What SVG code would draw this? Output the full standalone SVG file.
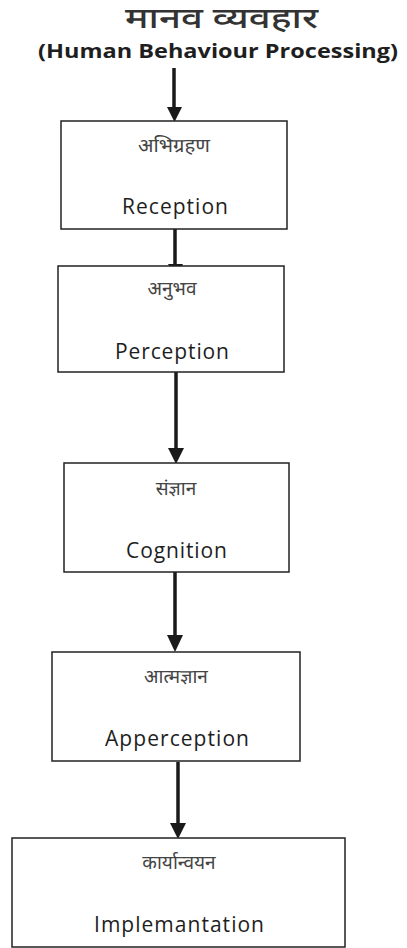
<svg xmlns="http://www.w3.org/2000/svg" width="407" height="948" viewBox="0 0 407 948">
<style>
.box{fill:#fff;stroke:#222;stroke-width:1.5}
.hi{font-family:"Noto Sans Devanagari","Noto Sans",sans-serif;font-size:19px;fill:#444;text-anchor:middle}
.en{font-family:"Open Sans","Liberation Sans",sans-serif;font-size:21px;fill:#1e1e1e;text-anchor:middle}
.cn{stroke:#1a1a1a;stroke-width:3.5;fill:none}
.hd{fill:#1a1a1a}
</style>
<rect width="407" height="948" fill="#fff"/>
<g id="title">
<text x="221.5" y="28" font-family="Noto Sans Devanagari,Noto Sans,sans-serif" font-size="28" font-weight="500" fill="#333" text-anchor="middle" textLength="193" lengthAdjust="spacingAndGlyphs">मानव  व्यवहार</text>
<text x="218" y="58" font-family="Open Sans,Liberation Sans,sans-serif" font-size="20" font-weight="bold" fill="#1e1e1e" text-anchor="middle" textLength="360" lengthAdjust="spacingAndGlyphs">(Human Behaviour Processing)</text>
</g>
<g id="connectors">
<line class="cn" x1="174" y1="68" x2="174" y2="108"/>
<polygon class="hd" points="167,107 182,107 174.5,122"/>
<line class="cn" x1="175" y1="229" x2="175" y2="264"/>
<polygon class="hd" points="168,264 183,264 175.5,278"/>
<line class="cn" x1="176" y1="372" x2="176" y2="449"/>
<polygon class="hd" points="168,448 184,448 176,464"/>
<line class="cn" x1="175" y1="572" x2="175" y2="636"/>
<polygon class="hd" points="167,635 183,635 175,652"/>
<line class="cn" x1="178" y1="762" x2="178" y2="824"/>
<polygon class="hd" points="170,823 186,823 178,839"/>
</g>
<g id="n1">
<rect class="box" x="61" y="121" width="226" height="108"/>
<text class="hi" x="174" y="152" textLength="72" lengthAdjust="spacingAndGlyphs">अभिग्रहण</text>
<text class="en" x="175" y="214" textLength="106" lengthAdjust="spacing">Reception</text>
</g>
<g id="n2">
<rect class="box" x="58" y="266" width="226" height="106"/>
<text class="hi" x="172" y="295">अनुभव</text>
<text class="en" x="172" y="359" textLength="114" lengthAdjust="spacing">Perception</text>
</g>
<g id="n3">
<rect class="box" x="64" y="463" width="225" height="109"/>
<text class="hi" x="176" y="495">संज्ञान</text>
<text class="en" x="176.5" y="558" textLength="101" lengthAdjust="spacing">Cognition</text>
</g>
<g id="n4">
<rect class="box" x="52" y="652" width="248" height="109"/>
<text class="hi" x="176" y="683">आत्मज्ञान</text>
<text class="en" x="177" y="746" textLength="144" lengthAdjust="spacing">Apperception</text>
</g>
<g id="n5">
<rect class="box" x="12" y="838" width="333" height="109"/>
<text class="hi" x="179" y="869">कार्यान्वयन</text>
<text class="en" x="179" y="932" textLength="170" lengthAdjust="spacing">Implemantation</text>
</g>
</svg>
